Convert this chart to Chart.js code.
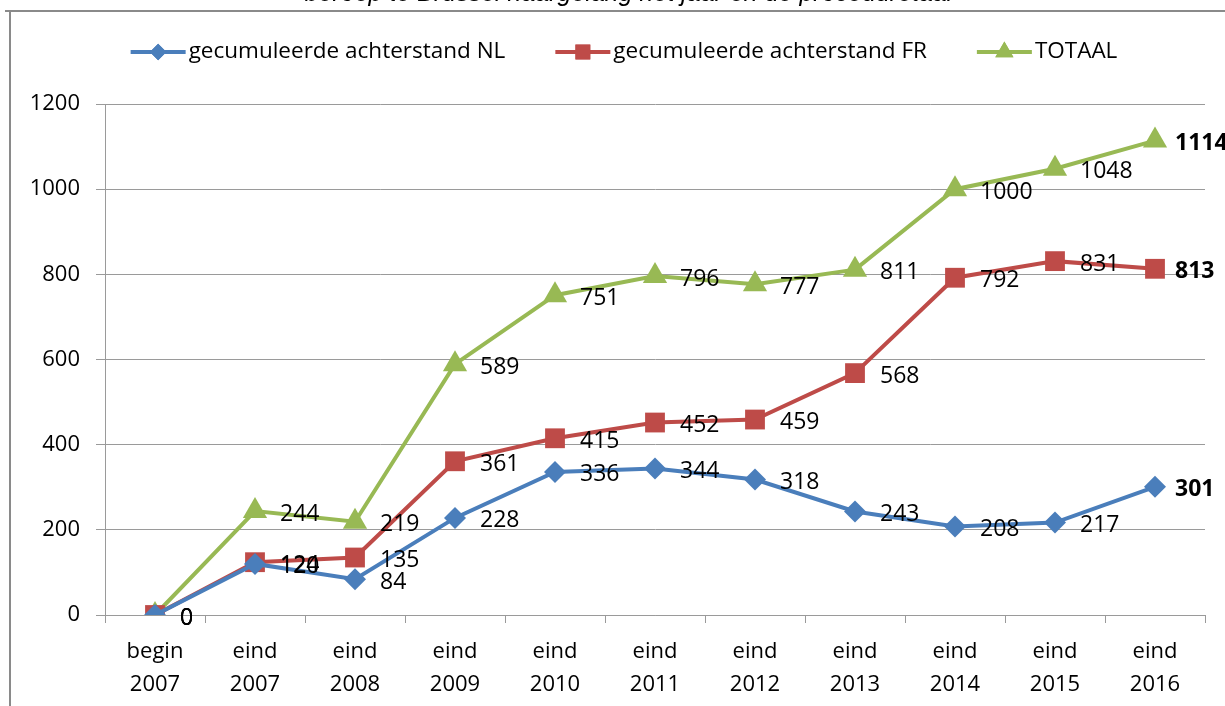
<!DOCTYPE html>
<html>
<head>
<meta charset="utf-8">
<script src="https://cdn.jsdelivr.net/npm/chart.js@4/dist/chart.umd.min.js"></script>
<style>
  html, body { margin: 0; padding: 0; background: #fff; overflow: hidden; }
  #wrap { position: relative; width: 1225px; height: 706px; }
  #frameTop { position: absolute; left: 5px; top: 10px; width: 1220px; height: 2px; background: #8a8a8a; }
  #frameLeft { position: absolute; left: 9px; top: 10px; width: 2px; height: 696px; background: #8a8a8a; }
  #title {
    position: absolute; left: 0; top: -22px; width: 1257px; text-align: center;
    font: italic 25px "Liberation Sans", Arial, sans-serif; color: #000; white-space: nowrap;
  }
  canvas { position: absolute; left: 0; top: 0; }
</style>
</head>
<body>
<div id="wrap">
  <canvas id="chart" width="1225" height="706"></canvas>
  <div id="title">beroep te Brussel naargelang het jaar en de proceduretaal</div>
  <div id="frameTop"></div>
  <div id="frameLeft"></div>
</div>
<script>
const categories = [
  ["begin", "2007"], ["eind", "2007"], ["eind", "2008"], ["eind", "2009"],
  ["eind", "2010"], ["eind", "2011"], ["eind", "2012"], ["eind", "2013"],
  ["eind", "2014"], ["eind", "2015"], ["eind", "2016"]
];
const achterstandNL = [0, 120, 84, 228, 336, 344, 318, 243, 208, 217, 301];
const achterstandFR = [0, 124, 135, 361, 415, 452, 459, 568, 792, 831, 813];
const totaal = [0, 244, 219, 589, 751, 796, 777, 811, 1000, 1048, 1114];
const yTicks = [0, 200, 400, 600, 800, 1000, 1200];

const FONT = '"Open Sans", "DejaVu Sans", sans-serif';

// Excel-like legend: short line with marker in the middle, then the text
const legendPlugin = {
    id: "excelLegend",
    afterDraw(chart) {
        const ctx = chart.ctx;
        const ds = chart.data.datasets;
        const lineLen = 55, textGap = 3, itemGap = 50, y = 52;
        ctx.save();
        ctx.font = "22.5px " + FONT;
        let total = 0;
        ds.forEach((d, i) => {
            total += lineLen + textGap + ctx.measureText(d.label).width;
            if (i < ds.length - 1) total += itemGap;
        });
        let x = 624 - total / 2;
        ds.forEach(d => {
            ctx.strokeStyle = d.borderColor;
            ctx.lineWidth = 4;
            ctx.beginPath();
            ctx.moveTo(x, y);
            ctx.lineTo(x + lineLen, y);
            ctx.stroke();
            ctx.fillStyle = d.backgroundColor;
            Chart.helpers.drawPoint(ctx, {
                pointStyle: d.pointStyle,
                radius: d.pointRadius * 0.75,
                borderWidth: 0
            }, x + lineLen / 2, y);
            ctx.fill();
            ctx.fillStyle = "#000";
            ctx.textBaseline = "middle";
            ctx.textAlign = "left";
            ctx.fillText(d.label, x + lineLen + textGap, y);
            x += lineLen + textGap + ctx.measureText(d.label).width + itemGap;
        });
        ctx.restore();
    }
};

// value labels to the right of each point, last one in bold
const valueLabels = {
    id: "valueLabels",
    afterDatasetsDraw(chart) {
        const ctx = chart.ctx;
        ctx.save();
        ctx.fillStyle = "#000";
        ctx.textBaseline = "middle";
        ctx.textAlign = "left";
        chart.data.datasets.forEach((d, i) => {
            const meta = chart.getDatasetMeta(i);
            meta.data.forEach((pt, j) => {
                const last = j === meta.data.length - 1;
                ctx.font = (last ? "bold " : "") + "23px " + FONT;
                ctx.fillText(String(d.data[j]), pt.x + (last ? 20 : 25), pt.y + 3);
            });
        });
        ctx.restore();
    }
};

new Chart(document.getElementById("chart"), {
    type: "line",
    data: {
        labels: categories,
        datasets: [{
            label: "gecumuleerde achterstand NL",
            data: achterstandNL,
            borderColor: "#4A7EBB",
            backgroundColor: "#4A7EBB",
            borderWidth: 4,
            pointStyle: "rectRot",
            pointRadius: 11,
            pointBorderWidth: 0,
            tension: 0
        }, {
            label: "gecumuleerde achterstand FR",
            data: achterstandFR,
            borderColor: "#BE4B48",
            backgroundColor: "#BE4B48",
            borderWidth: 4,
            pointStyle: "rect",
            pointRadius: 14,
            pointBorderWidth: 0,
            tension: 0
        }, {
            label: "TOTAAL",
            data: totaal,
            borderColor: "#98B954",
            backgroundColor: "#98B954",
            borderWidth: 4,
            pointStyle: "triangle",
            pointRadius: 14,
            pointBorderWidth: 0,
            tension: 0
        }]
    },
    options: {
        responsive: false,
        animation: false,
        layout: { padding: { top: 104, right: 20, left: 0, bottom: 0 } },
        plugins: {
            legend: { display: false },
            tooltip: { enabled: false }
        },
        scales: {
            x: {
                offset: true,
                afterFit: function (scale) { scale.height = 91; },
                grid: {
                    offset: true,
                    drawOnChartArea: false,
                    drawTicks: true,
                    tickLength: 8,
                    color: "#9a9a9a"
                },
                border: { color: "#9a9a9a", width: 1 },
                ticks: {
                    color: "#000",
                    padding: 12,
                    maxRotation: 0,
                    autoSkip: false,
                    font: { family: FONT, size: 22, lineHeight: 1.5 }
                }
            },
            y: {
                min: 0,
                max: 1200,
                afterFit: function (scale) { scale.width = 105; },
                afterBuildTicks: function (scale) {
                    scale.ticks = yTicks.map(v => ({ value: v }));
                },
                grid: {
                    color: "#9a9a9a",
                    tickLength: 9
                },
                border: { color: "#9a9a9a", width: 1 },
                ticks: {
                    color: "#000",
                    padding: 16,
                    font: { family: FONT, size: 22 },
                    callback: function (value) { return String(value); }
                }
            }
        }
    },
    plugins: [legendPlugin, valueLabels]
});
</script>
</body>
</html>
